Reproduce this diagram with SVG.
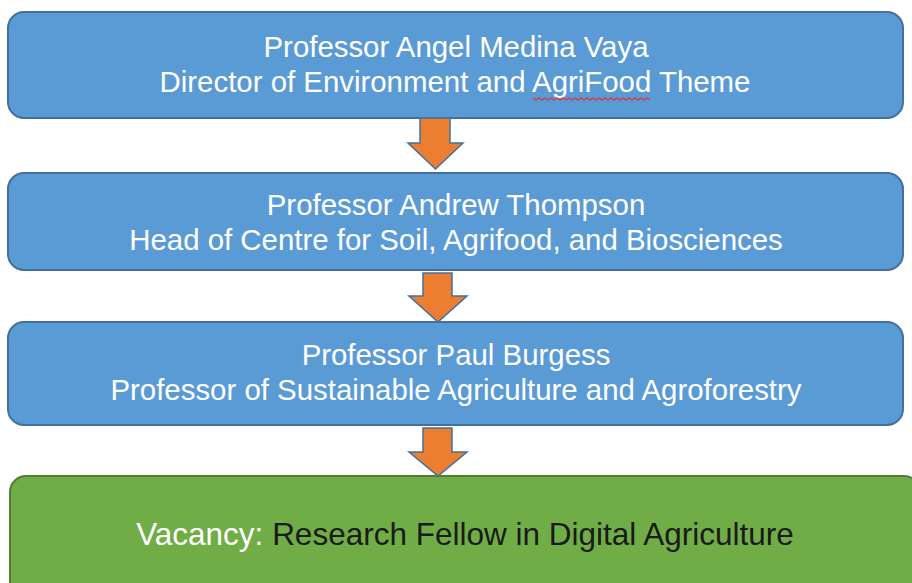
<svg xmlns="http://www.w3.org/2000/svg" width="912" height="583" viewBox="0 0 912 583">
  <defs>
    <style>
      .box { fill: #5B9BD5; stroke: #41719C; stroke-width: 2; }
      .vac { fill: #70AD47; stroke: #507E32; stroke-width: 2; }
      .arrow { fill: #ED7D31; stroke: #41719C; stroke-width: 1.5; stroke-linejoin: miter; }
      .t { font-family: "Liberation Sans", Arial, sans-serif; font-size: 29.4px; fill: #FFFFFF; text-anchor: middle; }
      .big { font-size: 31.5px; }
      .dark { fill: #1A1A1A; }
      .squiggle { fill: none; stroke: #E0353A; stroke-width: 1.2; }
    </style>
  </defs>
  <rect width="912" height="583" fill="#FFFFFF"/>

  <g id="node-director">
    <rect class="box" x="8" y="12" width="895" height="106" rx="16"/>
    <text class="t" x="456" y="57">Professor Angel Medina Vaya</text>
    <text class="t" x="455" y="92">Director of Environment and AgriFood Theme</text>
    <path class="squiggle" d="M533 98 l3 2 l3 -2 l3 2 l3 -2 l3 2 l3 -2 l3 2 l3 -2 l3 2 l3 -2 l3 2 l3 -2 l3 2 l3 -2 l3 2 l3 -2 l3 2 l3 -2 l3 2 l3 -2 l3 2 l3 -2 l3 2 l3 -2 l3 2 l3 -2 l3 2 l3 -2 l3 2 l3 -2 l3 2 l3 -2 l3 2 l3 -2 l3 2 l3 -2 l3 2 l3 -2 l3 2"/>
  </g>

  <g id="node-head">
    <rect class="box" x="8" y="173" width="895" height="97" rx="16"/>
    <text class="t" x="456" y="215">Professor Andrew Thompson</text>
    <text class="t" x="456" y="250">Head of Centre for Soil, Agrifood, and Biosciences</text>
  </g>

  <g id="node-professor">
    <rect class="box" x="8" y="322" width="895" height="103" rx="16"/>
    <text class="t" x="456" y="365">Professor Paul Burgess</text>
    <text class="t" x="456" y="400">Professor of Sustainable Agriculture and Agroforestry</text>
  </g>

  <g id="node-vacancy">
    <rect class="vac" x="10" y="476" width="910" height="130" rx="16"/>
    <text class="t big" x="465" y="545">Vacancy: <tspan class="dark">Research Fellow in Digital Agriculture</tspan></text>
  </g>

  <g id="connectors">
    <path class="arrow" d="M420 118 H450 V143 H463 L435.5 169 L408 143 H420 Z"/>
    <path class="arrow" d="M423 273 H452 V296 H467 L438 322 L409 296 H423 Z"/>
    <path class="arrow" d="M423 428 H452 V452 H467 L438 476 L409 452 H423 Z"/>
  </g>
</svg>
